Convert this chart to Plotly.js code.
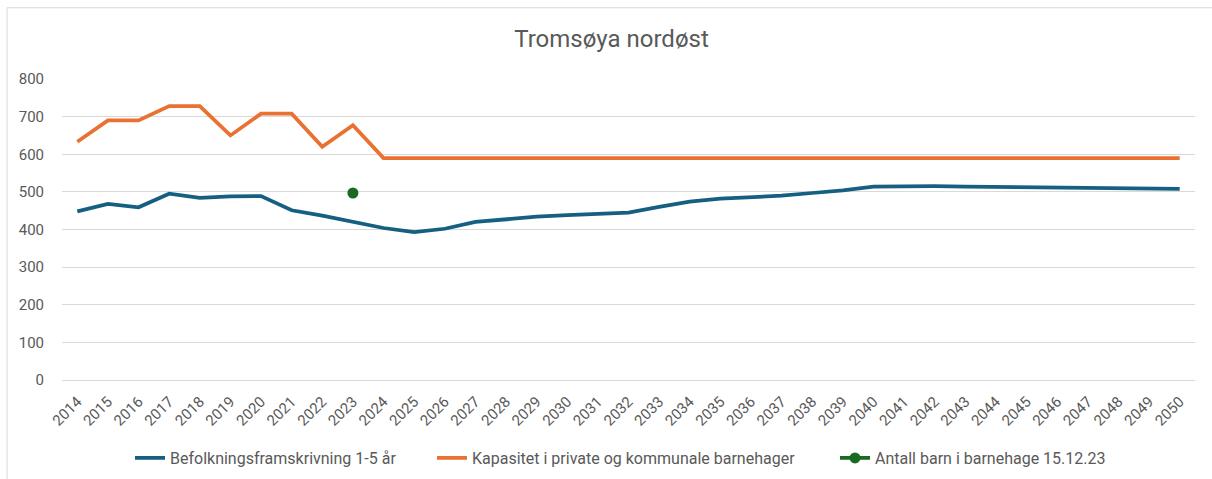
<!DOCTYPE html>
<html>
<head>
<meta charset="utf-8">
<script src="https://cdn.plot.ly/plotly-3.0.1.min.js"></script>
<style>html,body{margin:0;padding:0;background:#fff;}#chart{width:1212px;height:479px;}</style>
</head>
<body>
<div id="chart"></div>
<script>
const years = ['2014','2015','2016','2017','2018','2019','2020','2021','2022','2023','2024','2025','2026','2027','2028','2029','2030','2031','2032','2033','2034','2035','2036','2037','2038','2039','2040','2041','2042','2043','2044','2045','2046','2047','2048','2049','2050'];
const befolkning = [448,468,459,495,484,488,489,451,437,420,404,393,402,420,427,434,438,441,445,460,474,482,485,490,497,504,514,515,515,514,513,512,511,510,509,508,508];
const kapasitet = [633,690,690,728,728,650,708,708,620,677,590,590,590,590,590,590,590,590,590,590,590,590,590,590,590,590,590,590,590,590,590,590,590,590,590,590,590];
const antallYear = ['2023'];
const antallBarn = [497];
const yTicks = [0,100,200,300,400,500,600,700,800];

const FONT = 'Roboto, sans-serif';
const GREY = '#595959';

const traces = [
  {x: years, y: befolkning, type: 'scatter', mode: 'lines', name: 'Befolkningsframskrivning 1-5 år',
   line: {color: '#156082', width: 3.75}, legend: 'legend'},
  {x: years, y: kapasitet, type: 'scatter', mode: 'lines', name: 'Kapasitet i private og kommunale barnehager',
   line: {color: '#E97132', width: 3.75}, legend: 'legend2'},
  {x: antallYear, y: antallBarn, type: 'scatter', mode: 'lines+markers', name: 'Antall barn i barnehage 15.12.23',
   line: {color: '#196B24', width: 3.75}, marker: {color: '#196B24', size: 11}, legend: 'legend3'}
];

const legBase = {orientation: 'h', yref: 'container', yanchor: 'middle', y: 1 - 458/479, xref: 'container', xanchor: 'left',
  bgcolor: 'rgba(0,0,0,0)', font: {family: FONT, size: 16, color: GREY}, itemwidth: 30, tracegroupgap: 0};

const layout = {
  width: 1212, height: 479,
  margin: {l: 62, r: 17, t: 79, b: 99},
  paper_bgcolor: '#ffffff', plot_bgcolor: '#ffffff',
  font: {family: FONT, color: GREY},
  title: {text: 'Tromsøya nordøst', font: {family: FONT, size: 24, color: GREY},
          xref: 'container', x: 611.5/1212, xanchor: 'center', yref: 'container', y: 1 - 39/479, yanchor: 'middle'},
  xaxis: {type: 'category', range: [-0.5, 36.5], tickangle: -45, showgrid: false, zeroline: false, automargin: false,
          showline: true, linecolor: '#d9d9d9', linewidth: 1, ticks: '', ticklabelstandoff: 6,
          tickfont: {family: FONT, size: 15, color: GREY}, fixedrange: true},
  yaxis: {range: [0, 800], tickvals: yTicks, ticktext: yTicks.map(String), showgrid: true, gridcolor: '#d9d9d9', gridwidth: 1,
          zeroline: false, showline: false, ticks: '', ticklabelstandoff: 17, automargin: false,
          tickfont: {family: FONT, size: 15, color: GREY}, fixedrange: true},
  showlegend: true,
  legend: Object.assign({}, legBase, {x: 130/1212}),
  legend2: Object.assign({}, legBase, {x: 432/1212}),
  legend3: Object.assign({}, legBase, {x: 835/1212}),
  shapes: [
    {type: 'line', xref: 'paper', yref: 'paper', x0: -0.0485, x1: 1.02, y0: 1.2367, y1: 1.2367, line: {color: '#d9d9d9', width: 1}},
    {type: 'line', xref: 'paper', yref: 'paper', x0: -0.0485, x1: -0.0485, y0: 1.2367, y1: -0.34, line: {color: '#d9d9d9', width: 1}}
  ]
};

Plotly.newPlot('chart', traces, layout, {displayModeBar: false, staticPlot: true});
</script>
</body>
</html>
